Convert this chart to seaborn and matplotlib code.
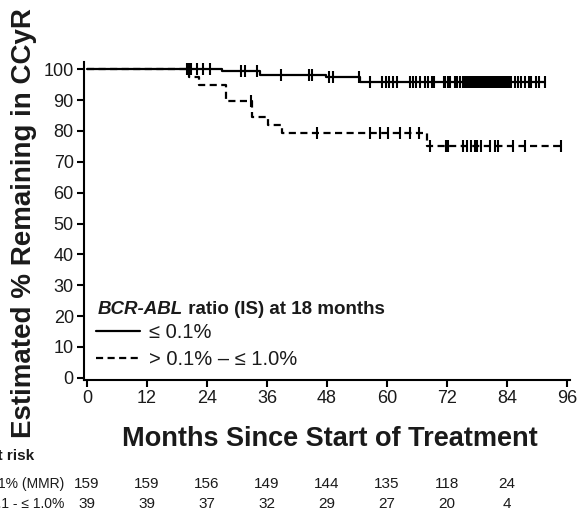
import numpy as np
import pandas as pd
import matplotlib
matplotlib.use("Agg")
import matplotlib.pyplot as plt
import matplotlib.transforms as mtransforms
from matplotlib.lines import Line2D
import seaborn as sns

# ---------------- data ----------------
# Kaplan-Meier step points (months, % remaining in CCyR)
mmr_step_t = [0, 27.0, 34.5, 47.8, 54.6, 91.5]
mmr_step_s = [100, 99.4, 98.1, 97.4, 96.0, 96.0]
mmr_censor = [19.9, 20.3, 20.7, 21.9, 23.1, 24.5, 30.8, 31.6, 33.9, 38.7,
              44.3, 45.0, 48.3, 49.1, 54.3, 56.6, 59.0, 59.7, 60.3, 61.1,
              61.9, 64.5, 65.1, 65.8, 66.6, 67.5, 68.1, 68.9, 69.3, 71.3,
              71.6, 72.1, 72.6, 73.5, 73.9, 74.6, 75.1, 75.4, 75.7, 76.0,
              76.3, 76.6, 76.9, 77.2, 77.5, 77.8, 78.1, 78.4, 78.7, 79.0,
              79.3, 79.6, 79.9, 80.2, 80.5, 80.8, 81.1, 81.4, 81.7, 82.0,
              82.3, 82.6, 82.9, 83.2, 83.5, 83.8, 84.1, 84.4, 84.8, 85.5,
              86.1, 86.8, 87.5, 88.3, 88.8, 89.7, 90.3, 91.5]

hi_step_t = [0, 20.3, 22.4, 27.8, 33.0, 36.1, 39.0, 68.0, 94.8]
hi_step_s = [100, 97.4, 94.9, 89.7, 84.6, 82.0, 79.4, 75.1, 75.1]
hi_censor = [32.8, 46.0, 56.5, 58.5, 60.1, 62.5, 64.5, 66.3, 68.5, 71.8,
             72.1, 75.1, 75.9, 76.8, 77.5, 78.0, 78.8, 80.5, 81.5, 82.1,
             85.1, 87.5, 94.8]

x_ticks = [0, 12, 24, 36, 48, 60, 72, 84, 96]
y_ticks = [0, 10, 20, 30, 40, 50, 60, 70, 80, 90, 100]

risk_months = [0, 12, 24, 36, 48, 60, 72, 84]
risk_mmr = [159, 159, 156, 149, 144, 135, 118, 24]
risk_hi = [39, 39, 37, 32, 29, 27, 20, 4]

legend_labels = ["\u2264 0.1%", "> 0.1% \u2013 \u2264 1.0%"]
risk_labels = ["\u2264 0.1% (MMR)", "> 0.1 - \u2264 1.0%"]

# ---------------- style ----------------
sns.set_theme(style="ticks")
plt.rcParams["font.family"] = ["Liberation Sans", "DejaVu Sans"]
plt.rcParams["axes.linewidth"] = 1.5

fig = plt.figure(figsize=(5.78, 5.14), dpi=100)
ax = fig.add_axes([0.1445, 0.2607, 0.841, 0.619])

LW = 1.6
DASH = (0, (3.2, 2.0))
TXT = "#1a1a1a"


def censor_y(step_t, step_s, cens):
    t = np.asarray(step_t)
    s = np.asarray(step_s)
    idx = np.searchsorted(t, np.asarray(cens), side="right") - 1
    return s[idx]


df_mmr = pd.DataFrame({"t": mmr_step_t, "s": mmr_step_s})
df_hi = pd.DataFrame({"t": hi_step_t, "s": hi_step_s})

sns.lineplot(data=df_hi, x="t", y="s", ax=ax, color="black", lw=LW,
             drawstyle="steps-post", estimator=None, linestyle=DASH)
sns.lineplot(data=df_mmr, x="t", y="s", ax=ax, color="black", lw=LW,
             drawstyle="steps-post", estimator=None)

dc_mmr = pd.DataFrame({"t": mmr_censor,
                       "s": censor_y(mmr_step_t, mmr_step_s, mmr_censor)})
dc_hi = pd.DataFrame({"t": hi_censor,
                      "s": censor_y(hi_step_t, hi_step_s, hi_censor)})
for d in (dc_mmr, dc_hi):
    sns.scatterplot(data=d, x="t", y="s", ax=ax, marker="|", s=85,
                    color="black", linewidth=1.5, zorder=3)

ax.set_xlim(-0.7, 96.5)
ax.set_ylim(-0.7, 102.4)
ax.set_xticks(x_ticks)
ax.set_yticks(y_ticks)
ax.set_xlabel("")
ax.set_ylabel("")
ax.tick_params(axis="both", direction="out", length=5, width=1.5,
               labelsize=13, color="black", labelcolor=TXT, pad=2)
sns.despine(ax=ax)
for sp in ("left", "bottom"):
    ax.spines[sp].set_color("black")

# axis titles
fig.text(330 / 578, 1 - 446 / 514, "Months Since Start of Treatment",
         ha="center", va="baseline", fontsize=19.5, fontweight="bold",
         color=TXT)
fig.text(24 / 578, 1 - 223 / 514, "Estimated % Remaining in CCyR",
         ha="center", va="center", rotation=90, fontsize=20,
         fontweight="bold", color=TXT)

# legend
handles = [Line2D([], [], color="black", lw=LW),
           Line2D([], [], color="black", lw=LW, linestyle=DASH)]
leg = ax.legend(handles, legend_labels, loc="upper left",
                bbox_to_anchor=(96 / 578, 1 - 323 / 514),
                bbox_transform=fig.transFigure, frameon=False,
                fontsize=14.5, handlelength=2.2, handletextpad=0.45,
                labelspacing=0.42, borderpad=0, borderaxespad=0)
for t in leg.get_texts():
    t.set_color(TXT)

t1 = fig.text(98 / 578, 1 - 314 / 514, "BCR-ABL", ha="left", va="baseline",
              fontsize=13.5, fontweight="bold", style="italic", color=TXT)
ax.annotate(" ratio (IS) at 18 months", xy=(1, 0), xycoords=t1,
            ha="left", va="bottom", fontsize=13.5, fontweight="bold",
            color=TXT, annotation_clip=False)

# number at risk table
fig.text(34 / 578, 1 - 460 / 514, "Number at risk", ha="right",
         va="baseline", fontsize=11, fontweight="bold", color=TXT)
trans = mtransforms.blended_transform_factory(ax.transData, fig.transFigure)
rows = [(risk_labels[0], risk_mmr, 1 - 488 / 514),
        (risk_labels[1], risk_hi, 1 - 508 / 514)]
for lab, vals, yy in rows:
    fig.text(64 / 578, yy, lab, ha="right", va="baseline", fontsize=10,
             color=TXT)
    for m, v in zip(risk_months, vals):
        ax.text(m, yy, str(v), transform=trans, ha="center", va="baseline",
                fontsize=11, color=TXT)

fig.savefig("out.png", dpi=100)
